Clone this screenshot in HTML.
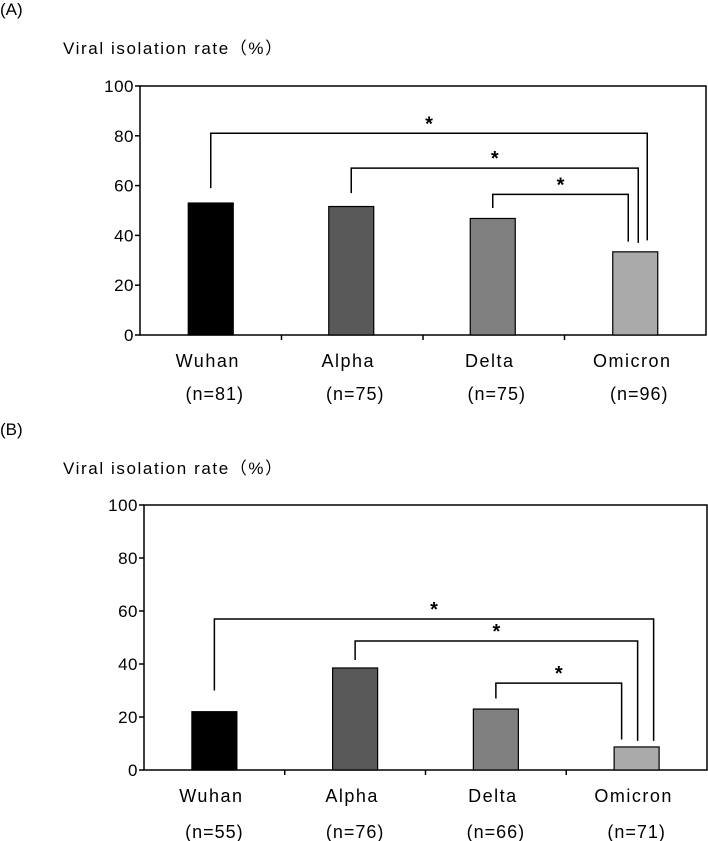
<!DOCTYPE html>
<html><head><meta charset="utf-8"><style>
body{margin:0;background:#fff;width:708px;height:841px;overflow:hidden}
svg{display:block;font-family:"Liberation Sans","Noto Sans CJK JP",sans-serif}
</style></head><body>
<svg id="chart" width="708" height="841"></svg>
<script>
const categories = ["Wuhan","Alpha","Delta","Omicron"];
const nA = ["(n=81)","(n=75)","(n=75)","(n=96)"];
const nB = ["(n=55)","(n=76)","(n=66)","(n=71)"];
const valuesA = [53, 51.6, 46.8, 33.4];
const valuesB = [22, 38.5, 23, 8.7];
const yTicks = [0,20,40,60,80,100];
const colors = ["#000000","#595959","#808080","#aaaaaa"];
// brackets: [fromIndex, toIndex, level, leftDrop, rightDrop]
const bracketsA = [[0,3,81,59,38],[1,3,67,57,37],[2,3,56.5,51,37.5]];
const bracketsB = [[0,3,57,30,11],[1,3,48.7,41.5,11],[2,3,32.8,27,11.5]];

const NS="http://www.w3.org/2000/svg";
const svg=document.getElementById('chart');
function mk(tag,attrs,parent){const e=document.createElementNS(NS,tag);for(const k in attrs)e.setAttribute(k,attrs[k]);(parent||svg).appendChild(e);return e;}

function panel(p){
  const g=mk('g',{});
  
  
  const x0=p.left,x1=p.right,yTop=p.top,yBot=p.bottom;
  const yS=v=>yBot-(v/100)*(yBot-yTop);
  const bw=(x1-x0)/categories.length;
  const xC=i=>x0+bw*(i+0.5)+p.shift[i];
  let t=mk('text',{x:0,y:p.labelY,'font-size':17},g);t.textContent=p.label;
  
  t=mk('text',{x:63,y:p.titleY,'font-size':17,'letter-spacing':1.6},g);t.textContent="Viral isolation rate（%）";
  
  const fr=mk('rect',{x:x0,y:yTop,width:x1-x0,height:yBot-yTop,fill:'none',stroke:'#000','stroke-width':1.5},g);
  
  yTicks.forEach(v=>{
    const y=yS(v);
    mk('line',{x1:x0-5,x2:x0,y1:y,y2:y,stroke:'#000','stroke-width':1.5},g);
    const tl=mk('text',{x:x0-6,y:y+6,'font-size':17,'text-anchor':'end','letter-spacing':0.5},g);tl.textContent=v;
    
  });
  for(let i=1;i<categories.length;i++){const x=x0+bw*i;mk('line',{x1:x,x2:x,y1:yBot,y2:yBot+5,stroke:'#000','stroke-width':1.5},g);}
  p.values.forEach((v,i)=>{
    const b=mk('rect',{x:xC(i)-22.5,y:yS(v),width:45,height:yBot-yS(v),fill:colors[i],stroke:'#000','stroke-width':1.2},g);
    
    
    const c=mk('text',{x:xC(i)+p.catShift,y:p.catY,'font-size':18,'text-anchor':'middle','letter-spacing':1.5},g);c.textContent=categories[i];
    
    const n=mk('text',{x:xC(i)+p.nShift,y:p.nY,'font-size':18,'text-anchor':'middle','letter-spacing':1},g);n.textContent=p.ns[i];
    
  });
  p.brackets.forEach((br,k)=>{
    const xl=xC(br[0]), xr=xC(3)+p.rx[k], y=yS(br[2]);
    const pl=mk('polyline',{points:`${xl},${yS(br[3])} ${xl},${y} ${xr},${y} ${xr},${yS(br[4])}`,fill:'none',stroke:'#000','stroke-width':1.5},g);
    
    const s=mk('text',{x:(xl+xr)/2,y:y-3,'font-size':20,'text-anchor':'middle','font-weight':'bold'},g);s.textContent="*";
    
  });
}
panel({name:'panel-a',label:'(A)',labelY:15,titleY:54,left:140,right:706,top:86,bottom:335,values:valuesA,ns:nA,brackets:bracketsA,
  shift:[0,-1,-1,0],rx:[12,3,-7],catY:367,nY:400,catShift:-3,nShift:4});
panel({name:'panel-b',label:'(B)',labelY:435,titleY:474,left:144,right:707,top:505,bottom:770,values:valuesB,ns:nB,brackets:bracketsB,
  shift:[0,0,0,0],rx:[17,1,-15],catY:802,nY:838,catShift:-3,nShift:0});
</script>
</body></html>
